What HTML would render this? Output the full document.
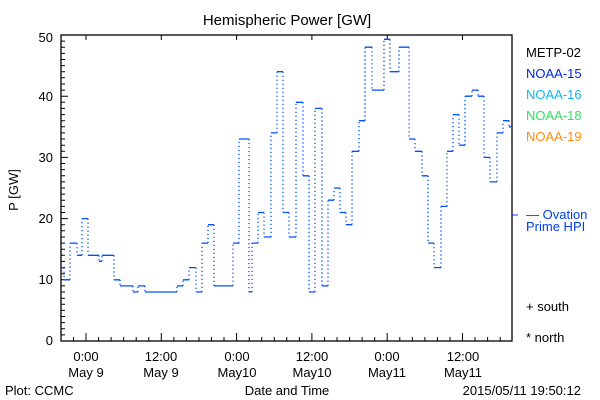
<!DOCTYPE html><html><head><style>body{margin:0;background:#fff}svg{display:block}text{font-family:"Liberation Sans",sans-serif;font-size:13px}</style></head><body>
<svg width="600" height="400" xmlns="http://www.w3.org/2000/svg">
<rect width="600" height="400" fill="#fff"/>
<text x="287" y="25" text-anchor="middle" style="font-size:15px">Hemispheric Power [GW]</text>
<rect x="61" y="35" width="451" height="306" fill="none" stroke="#000" stroke-width="1.3"/>
<path stroke="#000" fill="none" d="M61 334.9h4M61 328.8h4M61 322.6h4M61 316.5h4M61 310.4h4M61 304.3h4M61 298.2h4M61 292h4M61 285.9h4M61 279.8h7M61 273.7h4M61 267.6h4M61 261.4h4M61 255.3h4M61 249.2h4M61 243.1h4M61 237h4M61 230.8h4M61 224.7h4M61 218.6h7M61 212.5h4M61 206.4h4M61 200.2h4M61 194.1h4M61 188h4M61 181.9h4M61 175.8h4M61 169.6h4M61 163.5h4M61 157.4h7M61 151.3h4M61 145.2h4M61 139h4M61 132.9h4M61 126.8h4M61 120.7h4M61 114.6h4M61 108.4h4M61 102.3h4M61 96.2h7M61 90.1h4M61 84h4M61 77.8h4M61 71.7h4M61 65.6h4M61 59.5h4M61 53.4h4M61 47.2h4M61 41.1h4
M73.5 341v-4M86 341v-8M98.6 341v-4M111.1 341v-4M123.7 341v-4M136.2 341v-4M148.8 341v-4M161.3 341v-8M173.9 341v-4M186.4 341v-4M199 341v-4M211.5 341v-4M224 341v-4M236.6 341v-8M249.2 341v-4M261.7 341v-4M274.3 341v-4M286.8 341v-4M299.4 341v-4M311.9 341v-8M324.5 341v-4M337 341v-4M349.6 341v-4M362.1 341v-4M374.7 341v-4M387.2 341v-8M399.8 341v-4M412.3 341v-4M424.9 341v-4M437.4 341v-4M450 341v-4M462.5 341v-8M475 341v-4M487.6 341v-4M500.2 341v-4
M86 35v5M161.3 35v5M236.6 35v5M311.9 35v5M387.2 35v5M462.5 35v5"/>
<g text-anchor="end">
<text x="53" y="345">0</text><text x="53" y="284">10</text><text x="53" y="223">20</text><text x="53" y="162">30</text><text x="53" y="101">40</text><text x="53" y="42">50</text></g>
<text transform="translate(18,190) rotate(-90)" text-anchor="middle">P [GW]</text>
<g text-anchor="middle">
<text x="86" y="361">0:00</text><text x="86" y="377">May 9</text>
<text x="161" y="361">12:00</text><text x="161" y="377">May 9</text>
<text x="237" y="361">0:00</text><text x="237" y="377">May10</text>
<text x="312" y="361">12:00</text><text x="312" y="377">May10</text>
<text x="387" y="361">0:00</text><text x="387" y="377">May11</text>
<text x="463" y="361">12:00</text><text x="463" y="377">May11</text>
<text x="287" y="395">Date and Time</text></g>
<text x="5" y="395">Plot: CCMC</text>
<text x="581" y="395" text-anchor="end">2015/05/11 19:50:12</text>
<text x="526" y="57" fill="#000">METP-02</text>
<text x="526" y="78" fill="#0028e6">NOAA-15</text>
<text x="526" y="99" fill="#10b4f0">NOAA-16</text>
<text x="526" y="120" fill="#30e060">NOAA-18</text>
<text x="526" y="141" fill="#ff8c10">NOAA-19</text>
<line x1="512" y1="215" x2="518" y2="215" stroke="#0040f0"/>
<text x="526" y="219" fill="#0040f0">— Ovation</text>
<text x="526" y="231" fill="#0040f0">Prime HPI</text>
<text x="526" y="311">+ south</text>
<text x="526" y="342">* north</text>
<path fill="none" stroke="#0050ff" stroke-width="1.3" d="M61 267.6H64M64 279.8H70M70 243.1H77M77 255.3H82M82 218.6H88M88 255.3H99M99 261.4H102M102 255.3H114M114 279.8H120M120 285.9H133M133 292H138M138 285.9H145M145 292H177M177 285.9H183M183 279.8H189M189 267.6H196M196 292H202M202 243.1H208M208 224.7H214M214 285.9H233M233 243.1H239M239 139H249M249 292H252M252 243.1H258M258 212.5H264M264 237H271M271 132.9H277M277 71.7H283M283 212.5H289M289 237H296M296 102.3H303M303 175.8H309M309 292H315M315 108.4H322M322 285.9H328M328 200.2H334M334 188H340M340 212.5H346M346 224.7H352M352 151.3H359M359 120.7H365M365 47.2H372M372 90.1H384M384 39.3H390M390 71.7H399M399 47.2H409M409 139H415M415 151.3H422M422 175.8H428M428 243.1H434M434 267.6H441M441 206.4H447M447 151.3H453M453 114.6H459M459 145.2H465M465 96.2H472M472 90.1H478M478 96.2H484M484 157.4H490M490 181.9H497M497 132.9H503M503 120.7H509M509 126.8H512"/>
<path fill="none" stroke="#0050ff" stroke-width="1.3" stroke-dasharray="1.3,2.7" d="M64 267.6V279.8M70 279.8V243.1M77 243.1V255.3M82 255.3V218.6M88 218.6V255.3M99 255.3V261.4M102 261.4V255.3M114 255.3V279.8M120 279.8V285.9M133 285.9V292M138 292V285.9M145 285.9V292M177 292V285.9M183 285.9V279.8M189 279.8V267.6M196 267.6V292M202 292V243.1M208 243.1V224.7M214 224.7V285.9M233 285.9V243.1M239 243.1V139M249 139V292M252 292V243.1M258 243.1V212.5M264 212.5V237M271 237V132.9M277 132.9V71.7M283 71.7V212.5M289 212.5V237M296 237V102.3M303 102.3V175.8M309 175.8V292M315 292V108.4M322 108.4V285.9M328 285.9V200.2M334 200.2V188M340 188V212.5M346 212.5V224.7M352 224.7V151.3M359 151.3V120.7M365 120.7V47.2M372 47.2V90.1M384 90.1V39.3M390 39.3V71.7M399 71.7V47.2M409 47.2V139M415 139V151.3M422 151.3V175.8M428 175.8V243.1M434 243.1V267.6M441 267.6V206.4M447 206.4V151.3M453 151.3V114.6M459 114.6V145.2M465 145.2V96.2M472 96.2V90.1M478 90.1V96.2M484 96.2V157.4M490 157.4V181.9M497 181.9V132.9M503 132.9V120.7M509 120.7V126.8"/>
</svg></body></html>
